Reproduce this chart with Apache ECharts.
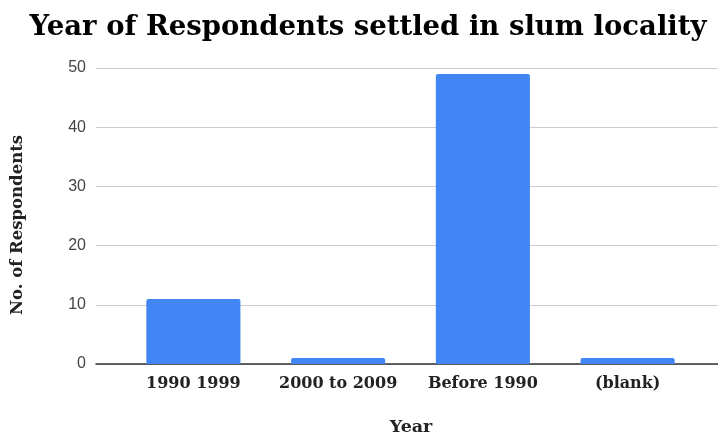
<!DOCTYPE html>
<html>
<head>
<meta charset="utf-8">
<script src="https://cdn.jsdelivr.net/npm/echarts@6/dist/echarts.min.js"></script>
<style>
  html, body { margin: 0; padding: 0; background: #ffffff; }
  #chart { width: 718px; height: 437px; }
</style>
</head>
<body>
<div id="chart"></div>
<script>
// Settlement period categories and respondent counts
const categories = ['1990 1999', '2000 to 2009', 'Before 1990', '(blank)'];
const respondents = [11, 1, 49, 1];
const yTicks = [0, 10, 20, 30, 40, 50];

const titleText = 'Year of Respondents settled in slum locality';
const xTitle = 'Year';
const yTitle = 'No. of Respondents';

const serif = '"DejaVu Serif", "Liberation Serif", serif';
const yMin = yTicks[0];
const yMax = yTicks[yTicks.length - 1];
const yStep = yTicks[1] - yTicks[0];

const chart = echarts.init(document.getElementById('chart'), null, { renderer: 'canvas' });

chart.setOption({
  animation: false,
  backgroundColor: '#ffffff',
  graphic: [
    {
      type: 'text', x: 368, y: 28,
      style: { text: titleText, font: 'bold 27.5px ' + serif, fill: '#000000', align: 'center', verticalAlign: 'middle' }
    },
    {
      type: 'text', x: 411, y: 427,
      style: { text: xTitle, font: 'bold 17.5px ' + serif, fill: '#222222', align: 'center', verticalAlign: 'middle' }
    },
    {
      type: 'text', x: 18, y: 225, rotation: Math.PI / 2,
      style: { text: yTitle, font: 'bold 16.5px ' + serif, fill: '#222222', align: 'center', verticalAlign: 'middle' }
    }
  ],
  grid: [
    // full-width frame carrying gridlines, tick labels and baseline
    { left: 96, right: 0, top: 68, bottom: 73, containLabel: false },
    // inset plot area for the category bars
    { left: 121, right: 18, top: 68, bottom: 73, containLabel: false }
  ],
  xAxis: [
    {
      gridIndex: 0, type: 'value', min: 0, max: 1,
      axisLine: { show: true, onZero: false, lineStyle: { color: '#333333', width: 1.5 } },
      axisTick: { show: false }, axisLabel: { show: false }, splitLine: { show: false }
    },
    {
      gridIndex: 1, type: 'category', data: categories,
      axisLine: { show: false }, axisTick: { show: false },
      axisLabel: {
        interval: 0, hideOverlap: false,
        margin: 12, fontFamily: serif, fontWeight: 'bold', fontSize: 16, color: '#222222'
      }
    }
  ],
  yAxis: [
    {
      gridIndex: 0, type: 'value', min: yMin, max: yMax, interval: yStep,
      axisLine: { show: false }, axisTick: { show: false },
      axisLabel: { margin: 10, fontFamily: '"Liberation Sans", Arial, sans-serif', fontSize: 16, color: '#444444' },
      splitLine: { show: true, lineStyle: { color: '#cccccc', width: 1 } }
    },
    {
      gridIndex: 1, type: 'value', min: yMin, max: yMax, interval: yStep,
      axisLine: { show: false }, axisTick: { show: false },
      axisLabel: { show: false }, splitLine: { show: false }
    }
  ],
  series: [
    {
      type: 'bar', xAxisIndex: 1, yAxisIndex: 1,
      data: respondents,
      barWidth: '65%',
      itemStyle: { color: '#4285f4', borderRadius: [2, 2, 0, 0] },
      z: 1
    }
  ]
});
</script>
</body>
</html>
